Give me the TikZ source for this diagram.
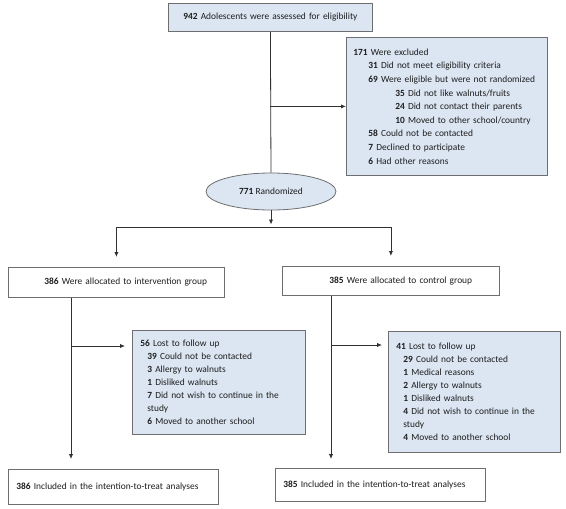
\documentclass[tikz,border=0pt]{standalone}
\usepackage{fontspec}
\setmainfont{Carlito}
\usetikzlibrary{arrows.meta,shapes.geometric,calc}
\definecolor{boxblue}{HTML}{DCE6F2}
\definecolor{boxline}{HTML}{6E6E6E}
\definecolor{lineclr}{HTML}{303030}
\definecolor{txt}{HTML}{1E1E1E}
\begin{document}
\begin{tikzpicture}[x=1pt,y=-1pt,
  every node/.style={text=txt},
  basebox/.style={draw=boxline, line width=0.8pt, rectangle, anchor=north west, align=left, inner ysep=0pt},
  bluebox/.style={basebox, fill=boxblue},
  whitebox/.style={basebox, fill=white},
  smallfont/.style={font=\fontsize{9.4}{13}\selectfont},
  conn/.style={draw=lineclr, line width=0.8pt},
  arr/.style={conn, -{Latex[length=5pt,width=4.2pt]}}
]
\useasboundingbox (0,0) rectangle (566,509);

% top
\node[bluebox, smallfont, align=center, minimum width=204pt, minimum height=28pt, inner xsep=0pt, text width=204pt] (top) at (168,3)
  {\textbf{942} Adolescents were assessed for eligibility};

% excluded
\node[bluebox, font=\fontsize{9.4}{13.6}\selectfont, minimum height=138pt, inner xsep=7pt, text width=187pt] (excl) at (346,37)
  {\textbf{171} Were excluded\\
   \hspace*{15pt}\textbf{31} Did not meet eligibility criteria\\
   \hspace*{15pt}\textbf{69} Were eligible but were not randomized\\
   \hspace*{42pt}\textbf{35} Did not like walnuts/fruits\\
   \hspace*{42pt}\textbf{24} Did not contact their parents\\
   \hspace*{42pt}\textbf{10} Moved to other school/country\\
   \hspace*{15pt}\textbf{58} Could not be contacted\\
   \hspace*{15pt}\textbf{7} Declined to participate\\
   \hspace*{15pt}\textbf{6} Had other reasons};

% randomized
\node[ellipse, draw=boxline, line width=0.8pt, fill=boxblue, smallfont, minimum width=130pt, minimum height=37pt, inner sep=0pt] (rand) at (271,191.5)
  {\textbf{771} Randomized};

% allocation
\node[whitebox, smallfont, minimum height=30pt, inner xsep=8pt, text width=200pt] (alloc1) at (8,267)
  {\hspace*{28pt}\textbf{386} Were allocated to intervention group};
\node[whitebox, smallfont, minimum height=29pt, inner xsep=8pt, text width=201pt] (alloc2) at (282,266)
  {\hspace*{39pt}\textbf{385} Were allocated to control group};

% lost to follow up
\node[bluebox, smallfont, minimum height=104pt, inner xsep=8pt, text width=157pt] (lost1) at (132,330)
  {\textbf{56} Lost to follow up\\
   \hspace*{7pt}\textbf{39} Could not be contacted\\
   \hspace*{7pt}\textbf{3} Allergy to walnuts\\
   \hspace*{7pt}\textbf{1} Disliked walnuts\\
   \hspace*{7pt}\textbf{7} Did not wish to continue in the\\
   \hspace*{7pt}study\\
   \hspace*{7pt}\textbf{6} Moved to another school};
\node[bluebox, smallfont, minimum height=121pt, inner xsep=8pt, text width=156pt] (lost2) at (388,331)
  {\textbf{41} Lost to follow up\\
   \hspace*{7pt}\textbf{29} Could not be contacted\\
   \hspace*{7pt}\textbf{1} Medical reasons\\
   \hspace*{7pt}\textbf{2} Allergy to walnuts\\
   \hspace*{7pt}\textbf{1} Disliked walnuts\\
   \hspace*{7pt}\textbf{4} Did not wish to continue in the\\
   \hspace*{7pt}study\\
   \hspace*{7pt}\textbf{4} Moved to another school};

% included
\node[whitebox, smallfont, minimum height=35pt, inner xsep=8pt, text width=194pt] (itt1) at (8,469)
  {\textbf{386} Included in the intention-to-treat analyses};
\node[whitebox, smallfont, minimum height=33pt, inner xsep=8pt, text width=194pt] (itt2) at (275,468)
  {\textbf{385} Included in the intention-to-treat analyses};

% coordinates
\coordinate (split) at (271,227);
\coordinate (lv) at ($(alloc1.south west)+(63,0)$);
\coordinate (rv) at ($(alloc2.south west)+(49,0)$);
\coordinate (lb) at ($(lost1.north west)+(0,16)$);
\coordinate (rb) at ($(lost2.north west)+(0,14)$);

% connectors
\draw[conn] (top.south) -- (rand.north);
\draw[arr] (top.south |- excl.west) -- (excl.west);
\draw[arr, shorten >=2.5pt] (rand.south) -- (split);
\draw[arr, shorten >=10pt] (split) -| (alloc1.north);
\draw[arr, shorten >=10pt] (split) -| (alloc2.north);
\draw[arr, shorten >=10pt] (lv) -- (lv |- itt1.north);
\draw[arr, shorten >=7pt] (lv |- lb) -- (lb);
\draw[arr, shorten >=9pt] (rv) -- (rv |- itt2.north);
\draw[arr, shorten >=6pt] (rv |- rb) -- (rb);
\end{tikzpicture}
\end{document}
